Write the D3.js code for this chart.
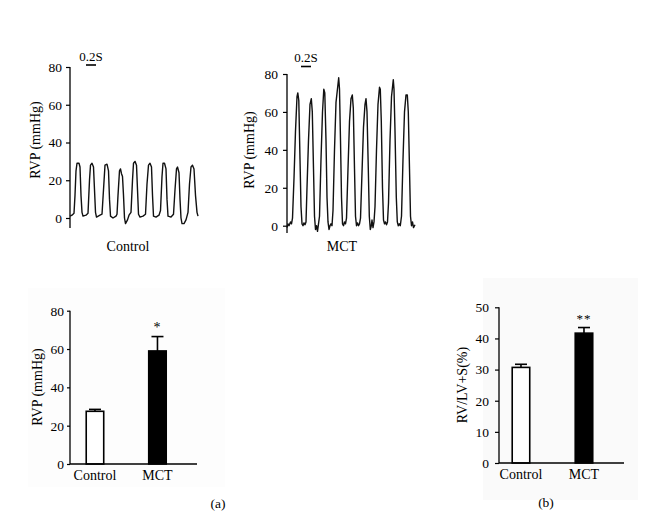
<!DOCTYPE html>
<html><head><meta charset="utf-8">
<script src="https://cdn.jsdelivr.net/npm/d3@7"></script>
<style>
body{margin:0;background:#fff;}
svg text{font-family:"Liberation Serif","Times New Roman","DejaVu Serif",serif !important;fill:#000;}
</style></head>
<body><svg id="c" width="654" height="530"></svg>
<script>
// ---- data ----
const controlTraceT = [0,0.04,0.08,0.10,0.12,0.14,0.18,0.20,0.22,0.24,0.26,0.32,0.36,0.39,0.41,0.44,0.47,0.49,0.51,0.53,0.60,0.64,0.67,0.70,0.74,0.77,0.79,0.81,0.86,0.92,0.94,0.96,0.99,1.01,1.03,1.05,1.07,1.09,1.11,1.15,1.18,1.22,1.25,1.27,1.30,1.33,1.35,1.37,1.40,1.46,1.51,1.54,1.57,1.60,1.63,1.65,1.67,1.72,1.78,1.81,1.84,1.86,1.89,1.92,1.94,1.96,2.02,2.07,2.10,2.13,2.15,2.18,2.20,2.22,2.24,2.28,2.32,2.36,2.39,2.42,2.45,2.48,2.51,2.54,2.56];
const controlTraceP = [1,1.5,2.5,12,25,29,29,27,12,3,1,1.5,2.5,20,28,29,27,15,3,0.5,1.5,2,15,28,28.5,25,10,1,0,1,2,12,25,26,23.5,22,12,0,-3,-1,1.5,3,20,29,30,28,15,2,0.5,1,2,18,28,29,27,12,1,0.5,1.5,4,22,29,29,26,10,1,0.5,2,15,26,27,24,10,0,-3,-3,-1,3,18,27,28,26,12,3,1];
const mctTraceT = [0,0.02,0.04,0.07,0.09,0.11,0.14,0.17,0.20,0.216,0.236,0.26,0.28,0.30,0.32,0.34,0.36,0.38,0.40,0.43,0.46,0.486,0.506,0.53,0.55,0.57,0.59,0.61,0.63,0.65,0.68,0.71,0.736,0.756,0.78,0.80,0.82,0.84,0.86,0.88,0.90,0.92,0.95,0.98,1.034,1.05,1.07,1.09,1.11,1.13,1.15,1.17,1.19,1.22,1.25,1.28,1.306,1.326,1.35,1.37,1.39,1.41,1.43,1.45,1.47,1.50,1.53,1.56,1.58,1.60,1.626,1.646,1.666,1.686,1.70,1.72,1.74,1.76,1.79,1.82,1.85,1.866,1.886,1.91,1.93,1.95,1.97,1.99,2.01,2.03,2.06,2.09,2.126,2.14,2.16,2.186,2.206,2.226,2.246,2.266,2.29,2.32,2.35,2.38,2.406,2.426,2.45,2.47,2.49,2.51,2.53,2.56];
const mctTraceP = [-1,1,0,2,1,4,25,50,68,70,66,35,10,1,0,1.5,0.5,2,20,45,64,67,60,30,5,-2,0,-3,1,5,35,60,72,70,45,15,2,-2,0,1,0,8,40,65,78,72,45,15,1,0,2,1,4,30,55,67,69,62,30,5,0,1.5,0,1,4,28,52,64,67,60,30,5,-2,0,3,-1,2,10,40,64,73,72,55,20,3,1,2,0.5,2,12,45,68,77,72,50,15,2,0,1,0,5,35,60,69,69,60,30,5,0,2,-1,0.5];
const traceTicks = [0,20,40,60,80];
const scaleBarSeconds = 0.2;
const scaleBarLabel = "0.2S";

const groups = ["Control","MCT"];
const rvpMeans = [27.5, 59];
const rvpErr = [1.0, 7.5];
const rvpTicks = [0,20,40,60,80];
const ratioMeans = [30.7, 41.7];
const ratioErr = [1.0, 1.8];
const ratioTicks = [0,10,20,30,40,50];
const barFills = ["#fff","#000"];
const rvpSig = ["","*"];
const ratioSig = ["","**"];

const svg = d3.select("#c");
const font = 13.5, lfont = 14;

// faint background panels
svg.append("rect").attr("x",483).attr("y",278).attr("width",155).attr("height",222).attr("fill","#fafafa");
svg.append("rect").attr("x",28).attr("y",288).attr("width",197).attr("height",199).attr("fill","#fdfdfd");

function yAxis(g, y, ticks, x, tickSize, pad, yTop, yBot){
  const ax = g.append("g").attr("transform",`translate(${x},0)`)
    .call(d3.axisLeft(y).tickValues(ticks).tickSize(tickSize).tickPadding(pad).tickSizeOuter(0));
  ax.attr("font-family",null).attr("font-size",null);
  ax.select(".domain").remove();
  ax.append("line").attr("x1",0).attr("x2",0).attr("y1",yTop).attr("y2",yBot).attr("stroke","#000").attr("stroke-width",1.3);
  ax.selectAll(".tick line").attr("stroke","#000").attr("stroke-width",1.2);
  ax.selectAll(".tick text").style("font-size",font+"px").attr("fill","#000");
  return ax;
}
function ylabel(text, x, y){
  svg.append("text").attr("transform",`translate(${x},${y}) rotate(-90)`).attr("text-anchor","middle")
    .attr("dy","0.35em").style("font-size",lfont+"px").text(text);
}

// ---- trace panels ----
function trace(T, P, x0, x1, y0, y80, axisBottom, label, labelX, sbX, sbTextY, sbLineY, tickSize, pad){
  const x = d3.scaleLinear().domain([0, 2.56]).range([x0, x1]);
  const y = d3.scaleLinear().domain([0, 80]).range([y0, y80]);
  const g = svg.append("g");
  yAxis(g, y, traceTicks, x0, tickSize, pad, y80, axisBottom);
  const pts = T.map((t,i)=>[t, P[i]]);
  g.append("path").datum(pts).attr("fill","none").attr("stroke","#111").attr("stroke-width",1.4)
    .attr("stroke-linejoin","round").attr("d", d3.line().x(d=>x(d[0])).y(d=>y(d[1])));
  const sb = x(scaleBarSeconds) - x(0);
  g.append("line").attr("x1",sbX - sb/2).attr("x2",sbX + sb/2).attr("y1",sbLineY).attr("y2",sbLineY).attr("stroke","#000").attr("stroke-width",1.6);
  g.append("text").attr("x",sbX).attr("y",sbTextY).attr("text-anchor","middle").style("font-size","13px").text(scaleBarLabel);
  g.append("text").attr("x",labelX).attr("y",251).attr("text-anchor","middle").style("font-size",lfont+"px").text(label);
}
trace(controlTraceT, controlTraceP, 70, 198, 218, 67, 228, "Control", 128, 91, 61, 65, 4, 4);
ylabel("RVP (mmHg)", 35, 140);
trace(mctTraceT, mctTraceP, 287, 415, 225.7, 74, 233, "MCT", 342, 306, 62, 66.5, 4, 5);
ylabel("RVP (mmHg)", 249, 150);

// ---- bar panels ----
function bars(means, errs, sig, ticks, yMax, ax0, ax1, y0, yTop, pi, po, al, tickSize, pad, sigSize){
  const x = d3.scaleBand().domain(groups).range([ax0, ax1]).paddingInner(pi).paddingOuter(po).align(al);
  const y = d3.scaleLinear().domain([0, yMax]).range([y0, yTop]);
  const g = svg.append("g");
  const bw = x.bandwidth();
  groups.forEach((k,i)=>{
    const cx = x(k) + bw/2;
    g.append("line").attr("x1",cx).attr("x2",cx).attr("y1",y(means[i])).attr("y2",y(means[i]+errs[i])).attr("stroke","#000").attr("stroke-width",1.6);
    g.append("line").attr("x1",cx-6).attr("x2",cx+6).attr("y1",y(means[i]+errs[i])).attr("y2",y(means[i]+errs[i])).attr("stroke","#000").attr("stroke-width",1.6);
    if (sig[i]) g.append("text").attr("x",cx).attr("y",y(means[i]+errs[i]) - 5).attr("text-anchor","middle")
      .style("font-size",sigSize+"px").style("letter-spacing","1px").text(sig[i]);
  });
  g.selectAll("rect.bar").data(groups).join("rect").attr("class","bar")
    .attr("x",k=>x(k)+0.75).attr("width",bw-1.5)
    .attr("y",(k,i)=>y(means[i])).attr("height",(k,i)=>y(0)-y(means[i]))
    .attr("fill",(k,i)=>barFills[i]).attr("stroke","#000").attr("stroke-width",1.6);
  yAxis(g, y, ticks, ax0, tickSize, pad, yTop, y0);
  g.append("line").attr("x1",ax0).attr("x2",ax1).attr("y1",y0).attr("y2",y0).attr("stroke","#000").attr("stroke-width",1.3);
  groups.forEach(k=>{
    g.append("text").attr("x",x(k)+bw/2).attr("y",y0+16).attr("text-anchor","middle").style("font-size",lfont+"px").text(k);
  });
  return x;
}
bars(rvpMeans, rvpErr, rvpSig, rvpTicks, 80, 70, 197, 464, 310.7, 0.696, 0.364, 0.34, 3, 3, 14);
ylabel("RVP (mmHg)", 37, 387);
bars(ratioMeans, ratioErr, ratioSig, ratioTicks, 50, 499, 624, 463, 307.3, 0.698, 0.341, 0.29, 4, 6, 13);
ylabel("RV/LV+S(%)", 462, 385);

svg.append("text").attr("x",218).attr("y",508).attr("text-anchor","middle").style("font-size","13.5px").text("(a)");
svg.append("text").attr("x",546).attr("y",507).attr("text-anchor","middle").style("font-size","13.5px").text("(b)");
</script></body></html>
